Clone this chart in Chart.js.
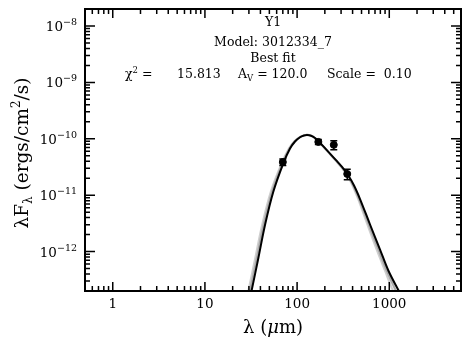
<!DOCTYPE html>
<html>
<head>
<meta charset="utf-8">
<script src="https://cdn.jsdelivr.net/npm/chart.js@4.4.1/dist/chart.umd.min.js"></script>
<style>
    html, body { margin: 0; padding: 0; background: #fff; }
</style>
</head>
<body>
<canvas id="sed" width="471" height="348"></canvas>
<script>
// observed photometry (microns, erg/cm^2/s)
const lambdaObs = [70, 170, 250, 350]
const fluxObs = [3.86e-11, 8.8e-11, 7.8e-11, 2.38e-11]
const fluxErr = [0.5e-11, 0.9e-11, 1.4e-11, 0.5e-11]

// best fit model (black)
const lambdaFit = [30.45, 32.19, 37.95, 44.86, 55.2, 70.87, 83.8, 94.9, 107.5, 118.9, 128.2, 141.6, 156.4, 172.9,
    200.9, 227.6, 264.4, 307.2, 359.5, 414.5, 481.5, 618.3, 793.6, 976.5, 1253.6, 1445.4]
const fluxFit = [1.385e-13, 2.084e-13, 7.6e-13, 2.96e-12, 1.152e-11, 3.674e-11, 6.72e-11, 8.95e-11, 1.066e-10, 1.143e-10,
    1.167e-10, 1.134e-10, 1.032e-10, 8.84e-11, 6.81e-11, 5.46e-11, 4.17e-11, 3.16e-11, 2.23e-11, 1.485e-11, 8.55e-12,
    3.02e-12, 1.088e-12, 4.62e-13, 2.084e-13, 1.385e-13]

// other good fits (grey)
const lambdaGood1 = [28.1, 29.7, 35.1, 41.7, 51.8, 67.8, 81.4, 93.0, 107.5, 118.9, 128.2, 141.6, 156.4, 172.9,
    198.9, 224.2, 259.2, 299.7, 349, 398.6, 458.6, 577.9, 728.1, 895.9, 1090, 1257]
const fluxGood1 = [1.385e-13, 2.084e-13, 7.6e-13, 2.96e-12, 1.152e-11, 3.674e-11, 6.72e-11, 8.95e-11, 1.08e-10, 1.16e-10,
    1.18e-10, 1.14e-10, 1.03e-10, 8.8e-11, 6.8e-11, 5.46e-11, 4.17e-11, 3.16e-11, 2.23e-11, 1.485e-11, 8.55e-12,
    3.02e-12, 1.088e-12, 4.62e-13, 2.084e-13, 1.385e-13]
const lambdaGood2 = [29.2, 30.9, 36.5, 43.2, 53.5, 69.3, 82.6, 94.0, 107.5, 118.9, 128.2, 141.6, 156.4, 172.9,
    200, 226, 262, 303, 354, 406, 470, 598, 760, 935, 1170, 1350]
const fluxGood2 = [1.385e-13, 2.084e-13, 7.6e-13, 2.96e-12, 1.152e-11, 3.674e-11, 6.72e-11, 8.95e-11, 1.07e-10, 1.15e-10,
    1.175e-10, 1.137e-10, 1.03e-10, 8.82e-11, 6.8e-11, 5.46e-11, 4.17e-11, 3.16e-11, 2.23e-11, 1.485e-11, 8.55e-12,
    3.02e-12, 1.088e-12, 4.62e-13, 2.084e-13, 1.385e-13]

// axis ticks
const xTicks = [1, 10, 100, 1000]
const xTickLabels = ['1', '10', '100', '1000']
const yTickExps = [-8, -9, -10, -11, -12]

const serif = '"DejaVu Serif", serif'

const toXY = (xs, ys) => xs.map((x, i) => ({x, y: ys[i]}))

// draw a run of text pieces: [text, size, dy, style]
function drawRun(ctx, parts, x, y, align) {
    const fontOf = p => (p[3] ? p[3] + ' ' : '') + p[1] + 'px ' + serif
    let total = 0
    parts.forEach(p => {
        ctx.font = fontOf(p)
        total += ctx.measureText(p[0]).width
    })
    let cx = align === 'center' ? x - total / 2 : (align === 'right' ? x - total : x)
    ctx.textAlign = 'left'
    parts.forEach(p => {
        ctx.font = fontOf(p)
        ctx.fillText(p[0], cx, y + (p[2] || 0))
        cx += ctx.measureText(p[0]).width
    })
}

const sedFrame = {
    id: 'sedFrame',
    afterDatasetsDraw(chart) {
        const {ctx, scales: {x, y}} = chart
        ctx.save()
        // error bars
        ctx.strokeStyle = '#000'
        ctx.lineWidth = 1.5
        lambdaObs.forEach((l, i) => {
            const px = x.getPixelForValue(l)
            const top = y.getPixelForValue(fluxObs[i] + fluxErr[i])
            const bot = y.getPixelForValue(fluxObs[i] - fluxErr[i])
            ctx.beginPath()
            ctx.moveTo(px, top); ctx.lineTo(px, bot)
            ctx.moveTo(px - 3.5, top); ctx.lineTo(px + 3.5, top)
            ctx.moveTo(px - 3.5, bot); ctx.lineTo(px + 3.5, bot)
            ctx.stroke()
        })
        ctx.restore()
    },
    afterDraw(chart) {
        const {ctx, chartArea: a, scales: {x, y}} = chart
        ctx.save()
        ctx.strokeStyle = '#000'
        ctx.fillStyle = '#000'
        ctx.lineWidth = 2
        ctx.strokeRect(a.left, a.top, a.right - a.left, a.bottom - a.top)

        // x ticks, bottom and top, pointing inwards
        ctx.lineWidth = 1.5
        ctx.beginPath()
        for (let k = -1; k <= 4; k++) {
            for (let m = 1; m <= 9; m++) {
                const v = m * Math.pow(10, k)
                if (v < x.min || v > x.max) continue
                const px = x.getPixelForValue(v)
                const len = m === 1 ? 9 : 5
                ctx.moveTo(px, a.bottom); ctx.lineTo(px, a.bottom - len)
                ctx.moveTo(px, a.top); ctx.lineTo(px, a.top + len)
            }
        }
        // y ticks, left and right
        for (let k = -14; k <= -7; k++) {
            for (let m = 1; m <= 9; m++) {
                const v = m * Math.pow(10, k)
                if (v < y.min || v > y.max) continue
                const py = y.getPixelForValue(v)
                const len = m === 1 ? 10 : 5
                ctx.moveTo(a.left, py); ctx.lineTo(a.left + len, py)
                ctx.moveTo(a.right, py); ctx.lineTo(a.right - len, py)
            }
        }
        ctx.stroke()

        // tick labels
        ctx.textBaseline = 'alphabetic'
        xTicks.forEach((v, i) => {
            drawRun(ctx, [[xTickLabels[i], 13.5]], x.getPixelForValue(v), 308, 'center')
        })
        yTickExps.forEach(e => {
            const py = y.getPixelForValue(Math.pow(10, e))
            drawRun(ctx, [['10', 13.5], ['\u2212' + Math.abs(e), 9.5, -6]], a.left - 8, py + 5, 'right')
        })

        // axis titles
        drawRun(ctx, [['\u03bb (', 18], ['\u03bc', 18, 0, 'italic'], ['m)', 18]], (a.left + a.right) / 2, 333, 'center')
        ctx.save()
        ctx.translate(28, 153)
        ctx.rotate(-Math.PI / 2)
        drawRun(ctx, [['\u03bbF', 18.5], ['\u03bb', 12, 4], [' (ergs/cm', 18.5], ['2', 12, -8], ['/s)', 18.5]], 0, 0, 'center')
        ctx.restore()

        // fit annotation
        const cx = (a.left + a.right) / 2
        drawRun(ctx, [['Y1', 12.5]], cx, 26, 'center')
        drawRun(ctx, [['Model: 3012334_7', 12.5]], cx, 45.5, 'center')
        drawRun(ctx, [['Best fit', 12.5]], cx, 61.5, 'center')
        drawRun(ctx, [['\u03c7', 12.5], ['2', 8.5, -5], [' =', 12.5]], 125, 78)
        drawRun(ctx, [['15.813', 12.5]], 177, 78)
        drawRun(ctx, [['A', 12.5], ['V', 8.5, 3], [' = 120.0', 12.5]], 238, 78)
        drawRun(ctx, [['Scale =  0.10', 12.5]], 327, 78)
        ctx.restore()
    }
}

const lineSet = (data, color, order) => ({
    type: 'line',
    data,
    borderColor: color,
    borderWidth: 2,
    pointRadius: 0,
    tension: 0.35,
    fill: false,
    order
})

new Chart(document.getElementById('sed'), {
    type: 'line',
    data: {
        datasets: [
            {
                type: 'scatter',
                data: toXY(lambdaObs, fluxObs),
                pointStyle: 'circle',
                pointRadius: 3.5,
                pointBackgroundColor: '#000',
                pointBorderColor: '#000',
                showLine: false,
                order: 0
            },
            lineSet(toXY(lambdaFit, fluxFit), '#000', 1),
            lineSet(toXY(lambdaGood2, fluxGood2), '#aaaaaa', 2),
            lineSet(toXY(lambdaGood1, fluxGood1), '#cfcfcf', 3)
        ]
    },
    options: {
        responsive: false,
        animation: false,
        layout: {padding: {left: 85, top: 9, right: 10, bottom: 57}},
        scales: {
            x: {type: 'logarithmic', min: 0.5, max: 6000, display: false},
            y: {type: 'logarithmic', min: 2e-13, max: 2e-8, display: false}
        },
        plugins: {
            legend: {display: false},
            tooltip: {enabled: false}
        }
    },
    plugins: [sedFrame]
})
</script>
</body>
</html>
